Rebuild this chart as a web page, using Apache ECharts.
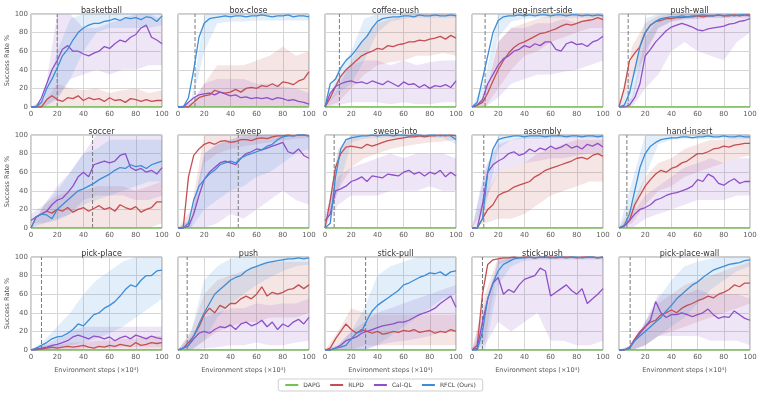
<!DOCTYPE html>
<html>
<head>
<meta charset="utf-8">
<script src="https://cdn.jsdelivr.net/npm/echarts@6.0.0/dist/echarts.min.js"></script>
<style>
  html, body { margin: 0; padding: 0; background: #fff; }
  #main { width: 761px; height: 397px; }
</style>
</head>
<body>
<div id="main"></div>
<script>
// task names, in grid order (3 rows x 5 cols)
var tasks = ['basketball', 'box-close', 'coffee-push', 'peg-insert-side', 'push-wall',
             'soccer', 'sweep', 'sweep-into', 'assembly', 'hand-insert',
             'pick-place', 'push', 'stick-pull', 'stick-push', 'pick-place-wall'];
// dashed vertical marker per task
var dashX = [20, 13, 11, 10, 7, 47, 46, 7, 9, 6, 8, 7, 31, 8, 8.5];
var steps = [0, 4, 8, 12, 16, 20, 24, 28, 32, 36, 40, 44, 48, 52, 56, 60, 64, 68, 72, 76, 80, 84, 88, 92, 96, 100];
var bandSteps = [0, 10, 20, 30, 40, 50, 60, 70, 80, 90, 100];
var methods = ['DAPG', 'RLPD', 'Cal-QL', 'RFCL (Ours)'];

var dapg = [0,0,0,0,0,0,0,0,0,0,0,0,0,0,0,0,0,0,0,0,0,0,0,0,0,0];

var rfcl = [
  [0,0,5,20,30,42,55,62,72,80,85,88,90,90,92,93,95,93,96,95,96,94,97,96,92,98],
  [0,0,10,40,75,90,95,96,97,98,97,98,98,97,98,98,99,98,97,98,98,99,97,98,98,97],
  [0,25,30,42,50,55,62,70,76,85,92,95,96,97,97,98,98,97,99,98,98,99,98,98,99,98],
  [0,5,30,55,80,93,97,98,98,99,98,99,98,99,99,98,99,99,98,99,99,98,99,98,99,98],
  [0,2,15,40,65,80,88,92,95,96,97,97,98,97,98,98,99,98,98,99,98,99,98,99,99,98],
  [0,12,15,14,10,20,25,30,35,40,42,45,48,52,55,58,62,65,64,68,66,67,64,68,70,72],
  [0,0,5,30,45,52,58,62,68,70,72,70,75,78,80,82,84,88,90,95,98,99,99,100,100,99],
  [0,5,55,85,95,97,98,99,99,100,99,100,100,99,100,100,99,100,100,99,100,100,99,100,99,95],
  [0,0,10,60,85,95,97,98,99,99,98,99,99,99,98,99,99,99,98,99,99,98,99,99,98,99],
  [0,3,15,40,65,80,88,92,95,96,97,97,98,98,97,98,98,99,98,98,99,98,98,99,98,98],
  [0,2,5,8,12,14,15,18,22,28,26,32,38,40,45,48,52,58,65,70,68,75,80,80,85,86],
  [0,2,5,15,28,40,50,60,65,70,75,78,80,85,88,90,92,94,95,96,97,98,98,99,98,99],
  [0,0,2,3,5,12,18,20,32,42,48,52,56,60,64,70,72,75,78,80,83,82,84,80,84,85],
  [0,0,20,55,72,85,92,95,98,99,99,100,99,100,100,99,100,100,99,100,100,99,100,100,99,100],
  [0,0,2,10,15,20,25,30,35,42,48,55,60,65,70,73,78,82,86,88,90,92,93,94,96,97]
];
var rlpd = [
  [0,0,0,8,12,8,6,10,9,12,7,10,8,9,6,10,7,8,5,9,8,6,8,6,7,7],
  [0,0,0,5,10,12,13,18,16,15,16,19,16,20,21,20,23,22,25,22,27,26,24,28,30,38],
  [0,10,22,33,40,45,50,55,58,60,63,62,66,65,67,68,70,70,72,71,73,74,76,73,77,74],
  [0,2,5,15,28,40,50,58,64,68,70,73,76,79,80,82,84,87,89,88,90,92,93,94,96,94],
  [0,20,50,58,65,80,88,92,93,95,95,96,96,97,97,98,97,98,98,99,98,98,99,98,99,99],
  [0,12,15,18,16,20,18,22,17,20,22,18,21,24,20,22,18,25,22,20,23,17,20,22,28,28],
  [0,0,55,78,85,90,92,90,93,94,92,93,95,95,94,96,97,96,98,99,99,100,99,100,100,99],
  [0,30,65,80,87,88,87,86,90,88,90,92,94,95,96,97,98,98,99,98,99,99,100,99,100,99],
  [0,0,10,20,25,35,38,40,44,46,48,50,55,58,62,64,66,68,70,72,75,76,74,78,80,77],
  [0,2,8,25,35,45,52,58,62,60,64,66,70,72,76,80,80,82,85,86,88,87,89,90,91,91],
  [0,2,1,2,3,2,3,4,3,4,5,3,2,4,3,5,4,6,5,4,8,5,6,8,7,8],
  [0,2,8,15,25,38,45,40,48,45,50,50,55,58,55,60,68,58,62,60,62,65,66,70,66,70],
  [0,2,12,20,28,22,18,22,20,18,20,17,18,20,19,21,20,22,19,20,21,18,20,19,22,20],
  [0,5,60,92,97,98,99,99,100,99,100,100,99,100,100,100,99,100,100,100,99,100,100,100,99,100],
  [0,0,3,12,20,25,30,32,38,40,43,40,45,48,50,53,55,58,56,60,62,65,70,68,72,72]
];
var calql = [
  [0,0,10,25,40,50,62,66,60,60,57,55,58,60,65,63,68,72,70,75,78,85,88,75,72,68],
  [0,0,5,10,13,14,15,13,16,14,12,13,10,11,9,10,9,10,8,10,9,7,8,6,5,3],
  [0,15,22,25,27,28,26,27,25,28,26,24,28,25,22,27,24,25,21,24,20,23,22,24,21,28],
  [0,2,8,25,35,45,52,55,60,62,66,64,68,66,70,70,62,60,68,70,67,68,65,70,72,76],
  [0,0,2,10,25,55,62,70,76,82,86,88,90,88,86,83,82,84,85,86,87,89,90,92,93,95],
  [8,12,15,18,25,30,32,38,45,55,60,55,68,70,72,70,72,78,80,65,62,64,60,62,58,65],
  [0,0,2,15,35,52,60,65,70,72,70,68,75,80,82,85,84,86,88,90,92,82,80,85,78,75],
  [8,15,40,42,45,50,52,55,50,56,55,54,58,57,56,60,62,58,60,56,60,58,62,55,60,56],
  [0,0,25,60,68,72,75,80,82,78,80,85,82,86,84,88,85,87,90,86,88,85,90,88,91,87],
  [0,2,8,15,20,22,25,30,32,35,37,38,40,42,45,52,50,58,55,48,46,50,53,48,50,50],
  [0,0,2,3,5,6,8,10,14,16,14,12,15,14,12,14,10,13,15,12,16,14,12,15,13,12],
  [0,2,5,12,18,20,18,22,25,24,27,22,28,30,26,28,32,25,30,22,28,25,30,33,28,35],
  [0,0,2,5,10,12,14,18,20,22,24,26,27,28,30,30,32,35,38,40,42,45,50,54,58,46],
  [0,2,30,55,72,78,60,65,62,70,76,78,80,88,85,58,62,66,70,64,60,66,50,55,60,66],
  [0,0,2,10,18,25,32,52,40,35,38,38,40,38,36,38,40,44,38,34,36,35,42,38,34,32]
];

// shaded bands (lower / upper) at bandSteps
var rfclLo = [
  [0,0,8,30,60,80,85,85,85,85,88],[0,0,60,90,92,92,93,93,93,93,93],[0,15,25,50,80,92,95,96,96,96,96],
  [0,5,75,92,95,96,96,96,96,96,96],[0,5,60,85,92,95,95,96,96,97,97],[0,5,8,15,25,30,35,40,45,50,50],
  [0,0,20,30,40,45,55,60,70,80,85],[0,40,92,96,97,97,97,97,97,97,90],[0,20,85,95,96,96,97,97,97,97,97],
  [0,10,55,90,95,96,96,96,96,96,96],[0,0,2,5,8,12,18,25,35,45,55],[0,0,10,35,50,60,70,78,85,90,92],
  [0,0,0,0,5,15,25,35,45,55,60],[0,0,70,90,96,97,97,97,97,97,97],[0,0,5,15,25,35,50,65,75,85,90]
];
var rfclHi = [
  [0,8,60,95,100,100,100,100,100,100,100],[0,5,100,100,100,100,100,100,100,100,100],[0,40,60,95,100,100,100,100,100,100,100],
  [0,30,100,100,100,100,100,100,100,100,100],[0,30,95,100,100,100,100,100,100,100,100],[0,25,40,60,80,85,95,95,95,95,95],
  [0,10,80,90,95,98,100,100,100,100,100],[0,80,100,100,100,100,100,100,100,100,100],[0,60,100,100,100,100,100,100,100,100,100],
  [0,50,100,100,100,100,100,100,100,100,100],[0,10,25,40,60,75,85,95,100,100,100],[0,20,75,90,98,100,100,100,100,100,100],
  [0,5,20,45,80,90,95,100,100,100,100],[0,30,100,100,100,100,100,100,100,100,100],[0,5,30,55,75,90,95,98,100,100,100]
];
var rlpdLo = [
  [0,0,0,0,0,0,0,0,0,0,0],[0,0,0,0,0,0,0,0,0,0,0],[0,5,20,35,45,48,50,55,55,58,55],
  [0,0,20,40,55,60,70,75,80,85,85],[0,30,55,85,92,94,95,96,96,96,96],[0,0,0,0,0,0,0,0,0,0,5],
  [0,0,70,80,85,88,90,92,94,96,97],[0,40,65,75,80,85,88,90,92,93,95],[0,5,10,10,15,25,35,40,45,50,50],
  [0,5,25,40,45,55,60,65,70,75,78],[0,0,0,0,0,0,0,0,0,0,0],[0,0,10,20,25,30,30,35,35,35,40],
  [0,0,0,5,5,5,5,5,5,5,5],[0,10,92,97,98,98,98,98,98,98,98],[0,0,5,15,20,25,30,35,40,45,50]
];
var rlpdHi = [
  [0,5,25,20,18,20,15,18,20,15,18],[0,0,25,45,45,45,50,55,65,55,60],[0,20,50,75,90,95,98,100,100,100,100],
  [0,10,70,85,90,95,98,100,100,100,100],[0,65,90,98,100,100,100,100,100,100,100],[0,25,35,40,40,45,45,45,40,45,50],
  [0,20,100,100,100,100,100,100,100,100,100],[0,85,100,100,100,100,100,100,100,100,100],[0,35,60,65,70,80,85,90,95,95,95],
  [0,25,55,70,75,85,90,95,95,98,100],[0,5,5,8,8,10,10,12,12,15,15],[0,20,60,75,80,85,90,95,95,95,95],
  [0,20,45,40,38,38,38,38,38,38,38],[0,60,100,100,100,100,100,100,100,100,100],[0,5,30,50,60,70,75,80,85,90,95]
];
var calqlLo = [
  [0,0,10,30,35,40,35,40,40,45,45],[0,0,0,0,0,0,0,0,0,0,0],[0,2,5,5,5,3,5,3,3,5,5],
  [0,0,10,25,30,35,35,38,40,45,50],[0,0,20,35,60,70,60,55,50,70,80],[5,5,10,15,30,35,35,35,30,30,35],
  [0,0,0,5,15,10,20,30,40,30,25],[0,25,35,35,35,40,40,40,45,40,40],[0,30,60,65,70,72,75,75,78,80,80],
  [0,0,10,15,20,25,30,30,30,35,35],[0,0,0,0,2,3,2,3,3,3,3],[0,0,2,3,5,5,8,5,5,8,10],
  [0,0,0,0,5,8,10,12,15,20,20],[0,5,30,20,30,40,10,10,5,5,10],[0,0,5,15,15,15,15,10,10,10,5]
];
var calqlHi = [
  [0,10,100,100,85,85,90,95,100,100,95],[0,5,25,30,30,30,25,25,22,20,15],[0,30,45,50,50,45,50,45,48,50,50],
  [0,10,70,85,85,90,90,95,90,95,95],[0,10,75,95,98,100,100,100,100,100,100],[15,25,45,60,80,100,100,100,100,100,100],
  [0,10,80,90,95,100,100,100,100,100,100],[15,55,65,70,75,80,75,80,80,80,75],[0,65,90,95,98,100,100,100,100,100,100],
  [0,15,35,45,55,65,70,75,70,75,75],[0,5,12,20,25,25,25,25,25,25,25],[0,15,35,40,45,45,50,48,50,50,55],
  [0,5,20,30,40,45,50,55,60,65,70],[0,50,95,100,100,100,100,100,100,100,100],[0,5,30,60,60,60,65,60,60,60,55]
];

var colors = { 'DAPG': '#74c24f', 'RLPD': '#c44e52', 'Cal-QL': '#8f4fc8', 'RFCL (Ours)': '#3c8dd6' };
var colLeft = [31, 178, 325, 472, 619];
var rowTop = [14, 135, 257];
var plotW = 131, plotH = 93;
var tickFont = { fontSize: 7, color: '#5c5c5c', fontFamily: 'DejaVu Sans' };

var chart = echarts.init(document.getElementById('main'), null, { renderer: 'canvas' });

function bandSeries(i, lo, hi, color) {
  return {
    type: 'custom', xAxisIndex: i, yAxisIndex: i, silent: true, z: 1,
    data: [[0, 0]],
    renderItem: function (params, api) {
      var pts = [];
      for (var k = 0; k < bandSteps.length; k++) pts.push(api.coord([bandSteps[k], hi[k]]));
      for (var k2 = bandSteps.length - 1; k2 >= 0; k2--) pts.push(api.coord([bandSteps[k2], lo[k2]]));
      return { type: 'polygon', shape: { points: pts }, style: { fill: color, opacity: 0.15 } };
    }
  };
}
function lineSeries(i, name, vals, z) {
  return {
    type: 'line', name: name, xAxisIndex: i, yAxisIndex: i, z: z,
    showSymbol: false, symbol: 'none', silent: true,
    data: steps.map(function (x, k) { return [x, vals[k]]; }),
    lineStyle: { width: name === 'DAPG' ? 1.6 : 1.3, color: colors[name] },
    itemStyle: { color: colors[name] }
  };
}

var grids = [], xAxes = [], yAxes = [], titles = [], series = [];
tasks.forEach(function (t, i) {
  var r = Math.floor(i / 5), c = i % 5;
  grids.push({ left: colLeft[c], top: rowTop[r], width: plotW, height: plotH,
               show: true, borderColor: '#9a9a9a', borderWidth: 1, backgroundColor: '#fff' });
  xAxes.push({
    type: 'value', gridIndex: i, min: 0, max: 100, interval: 20,
    axisLine: { show: false }, axisTick: { show: false },
    axisLabel: Object.assign({ margin: 4 }, tickFont),
    splitLine: { lineStyle: { color: '#d6d6d6', width: 1 } },
    name: r === 2 ? 'Environment steps (×10⁴)' : '', nameLocation: 'middle', nameGap: 17,
    nameTextStyle: { fontSize: 6.5, color: '#555', fontFamily: 'DejaVu Sans' }
  });
  yAxes.push({
    type: 'value', gridIndex: i, min: 0, max: 100, interval: 20,
    axisLine: { show: false }, axisTick: { show: false },
    axisLabel: Object.assign({ show: c === 0, margin: 3 }, tickFont),
    splitLine: { lineStyle: { color: '#d6d6d6', width: 1 } },
    name: c === 0 ? 'Success Rate %' : '', nameLocation: 'middle', nameGap: 19,
    nameTextStyle: { fontSize: 6.5, color: '#555', fontFamily: 'DejaVu Sans' }
  });
  titles.push({ text: t, left: colLeft[c] + plotW / 2, top: rowTop[r] - 12, textAlign: 'center',
                textStyle: { fontSize: 8, fontWeight: 'normal', color: '#333', fontFamily: 'DejaVu Sans' } });

  series.push(bandSeries(i, rlpdLo[i], rlpdHi[i], colors['RLPD']));
  series.push(bandSeries(i, calqlLo[i], calqlHi[i], colors['Cal-QL']));
  series.push(bandSeries(i, rfclLo[i], rfclHi[i], colors['RFCL (Ours)']));
  series.push({
    type: 'line', xAxisIndex: i, yAxisIndex: i, z: 3, silent: true, symbol: 'none',
    data: [[dashX[i], 0], [dashX[i], 100]],
    lineStyle: { type: [4, 2], width: 1, color: '#7a7a7a' }
  });
  series.push(lineSeries(i, 'DAPG', dapg, 4));
  series.push(lineSeries(i, 'RLPD', rlpd[i], 5));
  series.push(lineSeries(i, 'Cal-QL', calql[i], 6));
  series.push(lineSeries(i, 'RFCL (Ours)', rfcl[i], 7));
});

chart.setOption({
  animation: false,
  backgroundColor: '#fff',
  title: titles,
  grid: grids,
  xAxis: xAxes,
  yAxis: yAxes,
  legend: {
    data: methods, left: 'center', top: 379, icon: 'rect', itemWidth: 13, itemHeight: 2,
    itemGap: 10, padding: [3, 7, 3, 7], borderColor: '#cfcfcf', borderWidth: 1, borderRadius: 2,
    textStyle: { fontSize: 6, color: '#444', fontFamily: 'DejaVu Sans' }
  },
  series: series
});
</script>
</body>
</html>
